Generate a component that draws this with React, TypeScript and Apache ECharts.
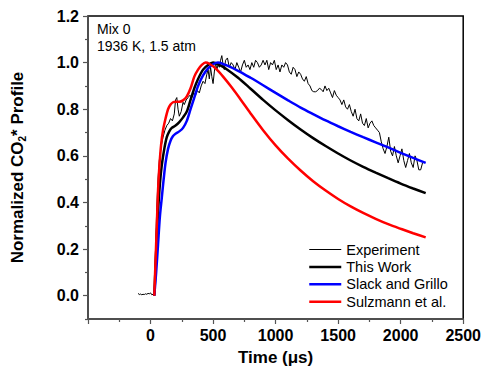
import React, { useEffect, useRef } from "react";
import * as echarts from "echarts";

const FONT = "'Liberation Sans', Arial, sans-serif";

const xMajorTicks = [-500, 0, 500, 1000, 1500, 2000, 2500];
const xLabelTicks = [0, 500, 1000, 1500, 2000, 2500];
const xMinorTicks = [-250, 250, 750, 1250, 1750, 2250];
const yMajorTicks = [0, 0.2, 0.4, 0.6, 0.8, 1.0, 1.2];
const yMinorTicks = [-0.1, 0.1, 0.3, 0.5, 0.7, 0.9, 1.1];

const seriesNames = ["Experiment", "This Work", "Slack and Grillo", "Sulzmann et al."];

const experiment: [number, number][] = [
  [-100, 0.01], [-90, 0.005], [-80, 0.007], [-70, 0.004], [-60, 0.006], [-50, 0.005], [-40, 0.008],
  [-30, 0.006], [-20, 0.01], [-10, 0.008], [0, 0.012], [10, 0.004], [20, 0.006], [30, 0.003],
  [40, 0.2], [50, 0.38], [60, 0.5], [70, 0.58], [85, 0.64], [100, 0.68], [115, 0.71], [130, 0.73],
  [145, 0.74], [160, 0.76], [175, 0.75], [190, 0.78], [200, 0.84], [210, 0.85], [220, 0.8], [230, 0.77],
  [245, 0.79], [260, 0.83], [270, 0.82], [285, 0.84], [300, 0.85], [315, 0.86], [330, 0.85], [345, 0.87],
  [360, 0.86], [375, 0.88], [390, 0.87], [405, 0.9], [420, 0.92], [435, 0.91], [450, 0.95], [460, 0.97],
  [470, 0.93], [480, 0.98], [490, 0.94], [500, 0.91], [510, 0.96], [520, 1.0], [530, 0.97], [540, 0.99],
  [550, 0.98], [560, 1.01], [570, 1.03], [580, 0.99], [590, 0.97], [600, 1.01], [615, 1.02], [630, 0.98],
  [645, 1.0], [660, 0.99], [675, 0.97], [690, 1.0], [705, 0.98], [720, 0.96], [735, 0.99], [750, 1.01],
  [765, 0.98], [780, 0.99], [795, 0.97], [810, 1.0], [825, 0.98], [840, 1.01], [855, 1.0], [870, 0.98],
  [885, 0.99], [900, 1.01], [915, 0.99], [930, 1.01], [945, 0.97], [960, 1.0], [975, 0.99], [990, 1.01],
  [1005, 0.97], [1020, 0.99], [1035, 0.96], [1050, 0.99], [1065, 0.98], [1080, 1.0], [1095, 0.99],
  [1110, 0.96], [1125, 0.95], [1140, 0.98], [1155, 0.97], [1170, 0.94], [1185, 0.96], [1200, 0.95],
  [1215, 0.93], [1230, 0.92], [1245, 0.94], [1260, 0.91], [1275, 0.9], [1290, 0.88], [1305, 0.875],
  [1320, 0.875], [1335, 0.88], [1350, 0.89], [1365, 0.885], [1380, 0.875], [1395, 0.9], [1410, 0.88],
  [1425, 0.89], [1440, 0.87], [1455, 0.85], [1470, 0.88], [1485, 0.86], [1500, 0.85], [1515, 0.84],
  [1530, 0.82], [1545, 0.84], [1560, 0.81], [1575, 0.8], [1590, 0.82], [1605, 0.79], [1620, 0.77],
  [1635, 0.8], [1650, 0.76], [1665, 0.75], [1680, 0.78], [1695, 0.74], [1710, 0.73], [1725, 0.76],
  [1740, 0.72], [1755, 0.74], [1770, 0.75], [1785, 0.73], [1800, 0.72], [1815, 0.71], [1830, 0.7],
  [1845, 0.66], [1860, 0.63], [1875, 0.61], [1890, 0.64], [1905, 0.68], [1920, 0.62], [1935, 0.6],
  [1950, 0.64], [1965, 0.6], [1980, 0.57], [1995, 0.6], [2010, 0.63], [2025, 0.58], [2040, 0.55],
  [2055, 0.58], [2070, 0.61], [2085, 0.57], [2100, 0.55], [2115, 0.6], [2130, 0.58], [2145, 0.54],
  [2160, 0.54], [2175, 0.57],
];

const thisWork: [number, number][] = [
  [30, 0], [40, 0.12], [50, 0.25], [60, 0.36], [75, 0.48], [90, 0.56], [110, 0.63], [130, 0.68],
  [150, 0.705], [170, 0.72], [200, 0.73], [230, 0.745], [260, 0.765], [290, 0.79], [320, 0.84],
  [350, 0.89], [380, 0.93], [420, 0.97], [460, 0.99], [500, 1.0], [550, 0.99], [600, 0.975],
  [700, 0.935], [800, 0.888], [900, 0.84], [1000, 0.795], [1100, 0.753], [1200, 0.713], [1300, 0.676],
  [1400, 0.642], [1500, 0.61], [1600, 0.58], [1700, 0.553], [1800, 0.528], [1900, 0.504], [2000, 0.481],
  [2100, 0.46], [2200, 0.44],
];

const slackGrillo: [number, number][] = [
  [30, 0], [45, 0.1], [60, 0.22], [75, 0.34], [90, 0.42], [105, 0.5], [120, 0.57], [140, 0.63],
  [160, 0.665], [180, 0.685], [200, 0.695], [230, 0.705], [260, 0.72], [290, 0.75], [320, 0.8],
  [350, 0.85], [380, 0.9], [420, 0.945], [460, 0.975], [500, 0.993], [540, 1.0], [600, 0.99],
  [700, 0.965], [800, 0.935], [900, 0.903], [1000, 0.87], [1100, 0.838], [1200, 0.807], [1300, 0.779],
  [1400, 0.752], [1500, 0.727], [1600, 0.703], [1700, 0.68], [1800, 0.658], [1900, 0.636], [2000, 0.613],
  [2100, 0.591], [2200, 0.57],
];

const sulzmann: [number, number][] = [
  [30, 0], [40, 0.15], [50, 0.3], [60, 0.45], [70, 0.55], [85, 0.65], [100, 0.71], [120, 0.76],
  [140, 0.8], [160, 0.82], [180, 0.83], [200, 0.832], [230, 0.832], [260, 0.838], [290, 0.855],
  [320, 0.89], [350, 0.94], [380, 0.97], [410, 0.99], [440, 1.0], [470, 0.995], [520, 0.975],
  [580, 0.94], [650, 0.893], [720, 0.842], [800, 0.782], [900, 0.71], [1000, 0.645], [1100, 0.588],
  [1200, 0.537], [1300, 0.491], [1400, 0.451], [1500, 0.415], [1600, 0.383], [1700, 0.355], [1800, 0.33],
  [1900, 0.307], [2000, 0.287], [2100, 0.268], [2200, 0.25],
];

const annotationLines = ["Mix 0", "1936 K, 1.5 atm"];

export default function App() {
  const ref = useRef<HTMLDivElement>(null);
  useEffect(() => {
    if (!ref.current) return;
    const chart = echarts.init(ref.current, undefined, { renderer: "svg" });
    const axisColor = "#555";
    const labelStyle = { color: "#000", fontFamily: FONT, fontWeight: "bold" as const, fontSize: 16 };
    const xBase = { type: "value", min: -500, max: 2500, position: "bottom", splitLine: { show: false } };
    const yBase = { type: "value", min: -0.1, max: 1.2, position: "left", splitLine: { show: false } };
    chart.setOption({
      animation: false,
      backgroundColor: "#fff",
      grid: { left: 88, right: 19, top: 16, bottom: 56, show: true, borderColor: "#000", borderWidth: 1.5, backgroundColor: "transparent" },
      xAxis: [
        {
          ...xBase,
          axisLine: { show: true, onZero: false, lineStyle: { color: axisColor, width: 1.5 } },
          axisTick: { show: true, inside: false, length: 5, customValues: xMajorTicks, lineStyle: { color: axisColor, width: 1.2 } },
          axisLabel: { show: true, customValues: xLabelTicks, margin: 8, formatter: (v: number) => String(v), ...labelStyle },
          name: "Time (\u03bcs)",
          nameLocation: "middle",
          nameGap: 30,
          nameTextStyle: { color: "#000", fontFamily: FONT, fontWeight: "bold", fontSize: 17 },
        },
        {
          ...xBase,
          axisLine: { show: false, onZero: false },
          axisTick: { show: true, inside: false, length: 3, customValues: xMinorTicks, lineStyle: { color: axisColor, width: 1.2 } },
          axisLabel: { show: false },
        },
      ],
      yAxis: [
        {
          ...yBase,
          axisLine: { show: true, onZero: false, lineStyle: { color: axisColor, width: 1.5 } },
          axisTick: { show: true, inside: false, length: 5, customValues: yMajorTicks, lineStyle: { color: axisColor, width: 1.2 } },
          axisLabel: { show: true, customValues: yMajorTicks, margin: 9, formatter: (v: number) => v.toFixed(1), ...labelStyle },
          name: "Normalized CO{sub|2}* Profile",
          nameLocation: "middle",
          nameGap: 61,
          nameTextStyle: {
            color: "#000", fontFamily: FONT, fontWeight: "bold", fontSize: 17,
            rich: {
              sub: { fontFamily: FONT, fontWeight: "bold", fontSize: 10, color: "#000", verticalAlign: "bottom", padding: [9, 0, 0, 0] },
            },
          },
        },
        {
          ...yBase,
          axisLine: { show: false, onZero: false },
          axisTick: { show: true, inside: false, length: 3, customValues: yMinorTicks, lineStyle: { color: axisColor, width: 1.2 } },
          axisLabel: { show: false },
        },
      ],
      legend: {
        orient: "vertical",
        left: 308,
        top: 241,
        padding: 0,
        itemWidth: 32,
        itemHeight: 12,
        itemGap: 0.4,
        itemStyle: { opacity: 0 },
        data: [
          { name: seriesNames[0], lineStyle: { width: 1 } },
          { name: seriesNames[1], lineStyle: { width: 2.5 } },
          { name: seriesNames[2], lineStyle: { width: 2.5 } },
          { name: seriesNames[3], lineStyle: { width: 2.5 } },
        ],
        textStyle: { color: "#000", fontFamily: FONT, fontSize: 14.5, lineHeight: 17, padding: [0, 0, 0, 0] },
      },
      graphic: annotationLines.map((t, i) => ({
        type: "text",
        left: 97,
        top: 22 + i * 17,
        style: { text: t, fill: "#000", font: `14px ${FONT}` },
      })),
      series: [
        { name: seriesNames[0], type: "line", data: experiment, symbol: "none", lineStyle: { color: "#000", width: 1 }, itemStyle: { color: "#000" }, z: 2 },
        { name: seriesNames[1], type: "line", data: thisWork, symbol: "none", smooth: 0.3, lineStyle: { color: "#000", width: 2.5 }, itemStyle: { color: "#000" }, z: 3 },
        { name: seriesNames[2], type: "line", data: slackGrillo, symbol: "none", smooth: 0.3, lineStyle: { color: "#0000ff", width: 2.5 }, itemStyle: { color: "#0000ff" }, z: 4 },
        { name: seriesNames[3], type: "line", data: sulzmann, symbol: "none", smooth: 0.3, lineStyle: { color: "#ff0000", width: 2.5 }, itemStyle: { color: "#ff0000" }, z: 5 },
      ],
    });
    return () => chart.dispose();
  }, []);
  return <div ref={ref} style={{ position: "fixed", left: 0, top: 0, width: 484, height: 375 }} />;
}
